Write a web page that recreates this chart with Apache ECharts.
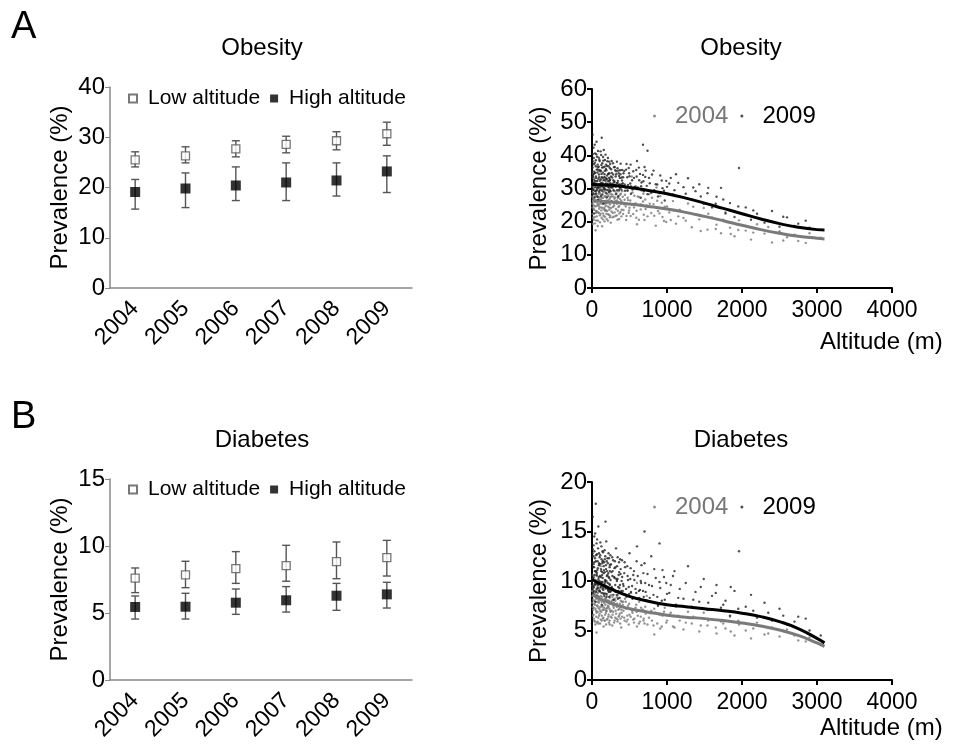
<!DOCTYPE html>
<html>
<head>
<meta charset="utf-8">
<script src="https://cdn.jsdelivr.net/npm/echarts@6/dist/echarts.min.js"></script>
<style>
	html, body { margin: 0; padding: 0; background: #fff; }
	#chart { width: 953px; height: 754px; }
</style>
</head>
<body>
<div id="chart"></div>
<script>
var years = ['2004', '2005', '2006', '2007', '2008', '2009'];

// Obesity, low / high altitude: mean, lower and upper error
var obLow = [25.5, 26.3, 27.7, 28.6, 29.3, 30.7];
var obLowLo = [24.1, 24.9, 26.1, 26.9, 27.5, 28.4];
var obLowHi = [27.1, 28.1, 29.3, 30.2, 31.1, 33.0];
var obHigh = [19.1, 19.8, 20.4, 21.0, 21.4, 23.2];
var obHighLo = [15.7, 16.0, 17.4, 17.4, 18.3, 19.0];
var obHighHi = [21.6, 22.9, 24.1, 24.9, 24.9, 26.3];

// Diabetes, low / high altitude
var diLow = [7.61, 7.84, 8.31, 8.53, 8.83, 9.13];
var diLowLo = [6.52, 6.89, 7.21, 7.37, 7.56, 7.76];
var diLowHi = [8.36, 8.86, 9.58, 10.05, 10.3, 10.42];
var diHigh = [5.45, 5.47, 5.77, 5.95, 6.29, 6.39];
var diHighLo = [4.55, 4.55, 4.90, 5.07, 5.20, 5.37];
var diHighHi = [6.27, 6.47, 6.79, 6.97, 7.21, 7.29];

// fitted curves against altitude (m)
var fitAlt = [0, 250, 500, 750, 1000, 1250, 1500, 1750, 2000, 2250, 2500, 2750, 3000, 3100];
var obFit2004 = [26.2, 25.9, 25.3, 24.6, 23.8, 22.8, 21.6, 20.3, 18.9, 17.6, 16.5, 15.6, 15.0, 14.8];
var obFit2009 = [31.2, 31.0, 30.3, 29.4, 28.4, 27.1, 25.6, 24.0, 22.4, 20.8, 19.4, 18.3, 17.6, 17.5];
var diFit2004 = [8.6, 7.75, 7.2, 6.85, 6.55, 6.35, 6.2, 6.0, 5.75, 5.45, 5.05, 4.5, 3.75, 3.4];
var diFit2009 = [10.15, 9.2, 8.45, 7.95, 7.6, 7.4, 7.2, 7.0, 6.75, 6.4, 5.9, 5.2, 4.2, 3.75];

// municipality points [altitude, prevalence]
var obPts2004 = [[5,24.3],[10,28.7],[15,21.2],[20,26.8],[25,30.4],[30,23.6],[35,27.1],[40,19.5],[45,25.9],[50,29.2],[55,22.7],[60,26.4],[65,32.1],[70,24.8],[75,27.5],[80,20.3],[85,25.1],[90,28.4],[95,23.9],[100,26.6],[110,30.2],[115,22.4],[120,25.7],[130,27.3],[135,18.6],[140,24.1],[150,28.9],[155,21.8],[160,26.2],[170,33.4],[175,23.3],[180,25.5],[190,29.6],[195,20.8],[200,26.0],[210,24.6],[220,27.8],[225,22.1],[230,31.3],[240,25.2],[250,19.7],[255,27.6],[260,23.1],[270,28.2],[280,24.4],[290,21.5],[300,26.9],[310,29.1],[320,23.8],[330,25.4],[340,20.6],[350,27.2],[360,24.7],[370,30.5],[380,22.9],[390,26.3],[400,25.8],[12,34.5],[48,17.4],[88,35.2],
	[420,23.5],[440,28.1],[460,21.7],[480,26.5],[500,24.2],[520,30.8],[550,22.3],[580,25.6],[600,19.2],[630,27.4],[650,23.7],[680,26.1],[700,20.5],[730,24.9],[760,28.3],[790,22.6],[820,25.3],[850,18.8],[880,23.2],[910,27.7],[940,21.4],[970,24.5],[990,19.9],[530,33.6],[860,30.3],
	[1030,22.8],[1080,26.2],[1120,19.4],[1170,23.6],[1220,21.1],[1280,25.5],[1330,18.3],[1380,22.2],[1430,20.7],[1490,24.1],[1540,17.6],[1600,21.3],[1660,19.1],[1720,16.5],[1780,22.4],[1840,18.2],[1900,15.6],[1960,20.4],
	[2050,17.3],[2120,14.6],[2200,19.2],[2300,16.4],[2400,13.7],[2500,17.1],[2600,15.3],[2750,14.2],[2900,16.5],[3050,15.2],
	[3,27.6],[8,22.3],[13,29.4],[18,25.1],[23,20.6],[28,28.2],[33,24.7],[38,31.5],[43,26.3],[53,23.2],[58,27.9],[63,21.6],[68,29.8],[73,25.4],[78,30.1],[83,22.8],[93,27.3],[98,24.5],[105,21.9],[108,28.5],[118,26.7],[125,23.4],[128,30.6],[138,25.3],[145,27.1],[148,22.5],[158,29.3],[165,24.2],[168,20.1],[178,27.7],[185,23.5],[188,31.8],[198,25.6],[205,28.3],[215,22.2],[218,26.5],[228,24.3],[235,29.7],[238,21.3],[245,27.4],[265,25.9],[275,22.6],[285,29.5],[295,24.8],[305,27.3],[315,21.7],[325,28.6],[335,26.4],[345,23.3],[355,29.2],[365,22.5],[375,26.8],[385,28.4],[395,23.6],
	[410,27.5],[430,25.2],[450,24.6],[470,29.3],[490,22.7],[510,26.4],[540,28.8],[560,24.3],[590,21.2],[610,27.6],[640,24.9],[660,29.4],[690,22.1],[710,26.7],[740,21.6],[770,25.4],[800,27.2],[830,21.8],[870,26.3],[900,22.5],[930,25.7],[960,20.2],[1000,24.6],
	[1050,20.5],[1100,23.4],[1150,21.6],[1250,20.3],[1350,24.5],[1450,17.2],[1550,22.4],[1650,17.8],[1750,20.6],[1850,16.3],[1950,17.5],[2150,16.7],[2350,18.4],[2550,14.3],[2700,16.1],[2850,13.6],
	[2,25.4],[7,30.7],[11,19.3],[16,27.2],[21,23.8],[26,33.1],[31,26.6],[36,21.4],[41,28.3],[46,24.6],[51,31.2],[56,20.4],[61,27.8],[66,23.1],[71,29.5],[76,18.7],[81,26.2],[86,30.3],[91,22.6],[96,28.8],[102,25.3],[107,19.8],[112,27.4],[117,31.6],[122,24.3],[127,21.2],[132,29.7],[137,26.1],[142,32.4],[147,20.7],[152,25.6],[157,30.4],[162,23.7],[167,27.6],[172,21.5],[177,29.1],[182,24.8],[187,26.3],[192,22.4],[197,30.9],[202,23.2],[207,27.5],[212,20.3],[217,29.4],[222,25.7],[227,32.2],[232,23.6],[237,26.9],[242,21.8],[247,28.4],[252,24.1],[262,30.2],[272,21.3],[282,27.6],[292,25.5],[302,22.8],[312,26.2],[322,30.6],[332,21.9],[342,27.3],[352,24.4],[362,20.8],[372,28.1],[382,25.3],[392,21.6],[402,29.2],[415,22.3],[435,26.6],[455,20.5],[475,27.2],[495,23.4],[515,21.7],[535,25.1],[565,27.8],[595,23.3],[625,20.6],[655,25.2],[685,28.4],[715,23.8]];
var obPts2009 = [[5,33.4],[10,38.2],[15,29.6],[20,42.3],[25,31.8],[30,35.1],[35,27.4],[40,40.6],[45,32.2],[50,36.7],[55,28.5],[60,44.1],[65,30.3],[70,34.8],[75,37.2],[80,26.6],[85,32.9],[90,39.3],[95,29.1],[100,35.6],[110,31.4],[115,41.2],[120,27.8],[130,33.5],[135,36.3],[140,30.7],[150,38.4],[155,25.5],[160,32.6],[170,35.3],[175,29.8],[180,40.2],[190,33.1],[195,27.3],[200,36.8],[210,31.2],[220,34.5],[225,28.9],[230,38.1],[240,32.7],[250,30.4],[255,35.8],[260,26.2],[270,33.3],[280,37.6],[290,29.4],[300,32.1],[310,35.5],[320,28.3],[330,31.6],[340,36.1],[350,27.7],[360,33.8],[370,30.2],[380,34.3],[390,29.7],[400,32.4],[8,46.2],[28,22.5],[130,45.3],
	[420,34.6],[440,29.3],[460,37.4],[480,31.1],[500,33.7],[520,28.4],[550,35.2],[580,30.6],[600,38.3],[630,32.5],[650,27.2],[680,34.1],[700,36.5],[730,30.8],[760,33.2],[790,28.7],[820,35.4],[850,31.3],[880,27.6],[910,33.9],[940,30.1],[970,26.4],[990,32.3],[680,43.2],[740,41.4],
	[1030,31.5],[1080,28.2],[1120,34.3],[1170,27.6],[1220,30.4],[1280,33.1],[1330,26.7],[1380,29.2],[1430,31.3],[1490,25.4],[1540,28.6],[1600,24.3],[1660,27.5],[1720,30.2],[1780,22.7],[1840,25.6],[1900,21.4],[1960,36.2],
	[2050,24.3],[2120,20.6],[2200,22.4],[2300,19.7],[2400,23.2],[2500,18.5],[2600,21.3],[2750,19.4],[2900,18.2],[3050,17.6],
	[3,30.6],[8,36.3],[13,33.7],[18,28.4],[23,39.2],[28,34.5],[33,31.3],[38,37.8],[43,29.2],[53,33.6],[58,40.3],[63,35.7],[68,31.1],[73,27.5],[78,36.4],[83,30.8],[93,34.2],[98,38.7],[105,32.3],[108,29.6],[118,35.4],[125,37.1],[128,31.7],[138,28.2],[145,34.8],[148,39.5],[158,30.2],[165,33.4],[168,36.6],[178,31.3],[185,35.9],[188,28.6],[198,32.8],[205,38.2],[215,30.5],[218,34.4],[228,33.2],[235,29.3],[238,36.2],[245,31.6],[265,34.7],[275,30.3],[285,32.5],[295,36.4],[305,30.9],[315,33.6],[325,35.2],[335,29.5],[345,32.3],[355,34.6],[365,31.2],[375,35.5],[385,30.4],[395,33.3],
	[410,31.6],[430,35.3],[450,30.2],[470,33.4],[490,36.2],[510,31.5],[540,29.7],[560,33.2],[590,35.6],[610,30.3],[640,34.4],[660,31.8],[690,29.2],[710,33.5],[740,28.3],[770,31.6],[800,34.2],[830,29.5],[870,31.2],[900,28.6],[930,32.4],[960,29.3],[1000,30.5],
	[1050,33.2],[1100,29.5],[1150,31.7],[1250,28.4],[1350,30.3],[1450,27.6],[1550,30.2],[1650,25.4],[1750,26.7],[1850,23.3],[1950,24.6],[2150,23.4],[2350,20.2],[2550,21.5],[2700,18.7],[2850,20.3],
	[2,35.3],[7,31.6],[11,40.4],[16,34.2],[21,29.7],[26,37.3],[31,32.6],[36,43.2],[41,34.7],[46,30.4],[51,38.5],[56,33.2],[61,29.5],[66,39.6],[71,32.3],[76,35.7],[81,41.3],[86,30.2],[91,36.6],[96,33.4],[102,38.3],[107,30.6],[112,35.2],[117,32.8],[122,40.1],[127,34.4],[132,29.3],[137,37.6],[142,33.2],[147,31.5],[152,36.4],[157,41.6],[162,29.8],[167,34.3],[172,38.6],[177,32.4],[182,30.7],[187,37.2],[192,35.5],[197,31.3],[202,33.9],[207,29.6],[212,39.2],[217,32.2],[222,36.7],[227,30.3],[232,34.6],[237,32.5],[242,37.4],[247,29.2],[252,33.6],[262,38.3],[272,31.4],[282,34.2],[292,31.8],[302,36.5],[312,30.6],[322,34.3],[332,38.1],[342,31.7],[352,35.4],[362,29.6],[372,33.2],[382,37.5],[392,31.3],[402,35.6],[415,33.4],[435,31.2],[455,35.7],[475,29.4],[495,34.6],[515,37.2],[535,32.5],[565,30.4],[595,33.6],[625,36.3],[655,30.7],[685,32.2],[715,35.4]];
var diPts2004 = [[5,8.5],[10,10.2],[15,7.1],[20,9.3],[25,6.2],[30,8.0],[35,11.0],[40,7.6],[45,5.6],[50,9.0],[55,8.2],[60,6.8],[65,10.5],[70,7.9],[75,5.9],[80,8.8],[85,7.3],[90,9.6],[95,6.5],[100,8.4],[110,7.0],[115,11.5],[120,8.1],[130,6.0],[135,9.2],[140,7.5],[150,8.7],[155,5.4],[160,7.8],[170,10.0],[175,6.6],[180,8.3],[190,7.2],[195,9.4],[200,6.1],[210,8.0],[220,7.4],[225,5.8],[230,9.0],[240,7.7],[250,6.4],[255,8.6],[260,7.0],[270,5.5],[280,8.1],[290,7.3],[300,9.1],[310,6.3],[320,7.6],[330,8.4],[340,5.9],[350,7.1],[360,8.8],[370,6.7],[380,7.4],[390,5.3],[400,7.9],[20,12.5],[60,4.8],[140,12.0],
	[420,7.0],[440,8.2],[460,5.9],[480,7.5],[500,6.6],[520,8.8],[550,6.1],[580,7.3],[600,5.4],[630,7.9],[650,6.4],[680,7.1],[700,5.7],[730,8.5],[760,6.3],[790,7.0],[820,5.5],[850,6.8],[880,7.6],[910,5.2],[940,6.5],[970,7.3],[990,5.8],[600,9.8],[830,4.6],
	[1030,6.6],[1080,5.4],[1120,7.4],[1170,6.0],[1220,5.1],[1280,6.9],[1330,5.7],[1380,6.3],[1430,4.9],[1490,6.8],[1540,5.5],[1600,6.1],[1660,4.7],[1720,5.9],[1780,5.2],[1840,6.4],[1900,4.5],[1960,5.6],
	[2050,5.0],[2120,4.2],[2200,5.8],[2300,4.6],[2400,5.3],[2500,4.4],[2600,5.1],[2750,4.0],[2900,4.3],[3050,3.6],
	[3,7.8],[8,9.5],[13,6.5],[18,8.9],[23,7.3],[28,10.4],[33,6.0],[38,8.6],[43,9.8],[53,7.0],[58,8.4],[63,5.8],[68,9.1],[73,7.5],[78,10.0],[83,6.3],[93,8.0],[98,7.2],[105,9.3],[108,5.7],[118,8.5],[125,6.9],[128,9.8],[138,7.4],[145,6.2],[148,8.8],[158,7.1],[165,9.5],[168,6.0],[178,8.2],[185,7.0],[188,5.6],[198,8.6],[205,7.3],[215,9.0],[218,6.4],[228,7.8],[235,6.0],[238,8.3],[245,7.0],[265,8.0],[275,6.6],[285,7.5],[295,5.8],[305,8.2],[315,7.0],[325,6.2],[335,7.7],[345,8.6],[355,6.4],[365,7.2],[375,5.7],[385,8.0],[395,6.8],
	[410,7.6],[430,6.3],[450,7.9],[470,6.5],[490,5.6],[510,7.2],[540,6.8],[560,5.8],[590,7.6],[610,6.5],[640,5.9],[660,7.0],[690,6.2],[710,7.4],[740,5.6],[770,6.8],[800,6.0],[830,7.2],[870,5.7],[900,6.6],[930,5.4],[960,6.9],[1000,6.0],
	[1050,6.8],[1100,5.3],[1150,6.5],[1250,5.8],[1350,6.4],[1450,5.5],[1550,6.0],[1650,5.3],[1750,5.7],[1850,4.9],[1950,6.0],[2150,5.2],[2350,4.7],[2550,5.0],[2700,4.5],[2850,3.9],
	[2,9.0],[7,7.4],[11,10.6],[16,8.1],[21,6.6],[26,9.7],[31,7.7],[36,5.9],[41,8.8],[46,7.2],[51,10.1],[56,6.4],[61,8.6],[66,7.5],[71,9.4],[76,6.9],[81,8.2],[86,5.7],[91,7.8],[96,9.1],[102,6.7],[107,8.9],[112,7.4],[117,6.1],[122,9.5],[127,7.9],[132,6.5],[137,8.4],[142,7.1],[147,9.9],[152,6.3],[157,8.0],[162,7.3],[167,8.8],[172,6.0],[177,7.6],[182,9.2],[187,6.8],[192,8.1],[197,7.0],[202,8.7],[207,6.2],[212,7.5],[217,9.3],[222,6.6],[227,8.0],[232,7.2],[237,5.6],[242,8.5],[247,6.9],[252,7.7],[262,6.3],[272,8.4],[282,6.9],[292,7.8],[302,6.0],[312,8.0],[322,6.7],[332,7.4],[342,6.1],[352,8.3],[362,6.5],[372,7.7],[382,6.2],[392,7.1],[402,6.4],[415,7.9],[435,6.0],[455,7.2],[475,6.1],[495,7.7],[515,6.4],[535,7.0],[565,6.2],[595,6.9],[625,5.7],[655,7.3],[685,6.0],[715,6.7]];
var diPts2009 = [[5,10.5],[10,13.2],[15,8.8],[20,11.7],[25,9.4],[30,14.5],[35,10.0],[40,12.3],[45,7.9],[50,11.0],[55,9.7],[60,13.8],[65,10.8],[70,8.5],[75,12.0],[80,9.3],[85,15.5],[90,10.4],[95,11.8],[100,8.2],[110,12.6],[115,9.9],[120,11.2],[130,7.6],[135,10.6],[140,13.0],[150,9.1],[155,11.5],[160,8.7],[170,12.2],[175,10.1],[180,9.5],[190,14.0],[195,8.4],[200,11.0],[210,9.8],[220,12.8],[225,8.9],[230,10.3],[240,11.6],[250,9.0],[255,7.8],[260,10.9],[270,12.4],[280,9.2],[290,8.1],[300,11.3],[310,9.6],[320,13.3],[330,8.6],[340,10.2],[350,9.4],[360,11.9],[370,8.3],[380,10.7],[390,9.0],[400,12.1],[10,16.5],[50,17.8],[180,16.0],
	[420,9.5],[440,11.4],[460,8.4],[480,10.1],[500,12.8],[520,8.9],[550,10.6],[580,9.2],[600,13.5],[630,8.3],[650,10.0],[680,9.0],[700,11.8],[730,8.0],[760,9.6],[790,12.5],[820,8.6],[850,10.3],[880,7.5],[910,9.3],[940,11.1],[970,8.1],[990,9.8],[700,15.0],[900,13.8],
	[1030,8.8],[1080,10.5],[1120,7.6],[1170,9.2],[1220,8.2],[1280,11.5],[1330,7.4],[1380,8.9],[1430,7.9],[1490,10.2],[1540,7.1],[1600,8.5],[1660,9.6],[1720,7.3],[1780,8.0],[1840,6.5],[1900,9.0],[1960,13.0],
	[2050,7.4],[2120,8.6],[2200,6.3],[2300,7.8],[2400,6.0],[2500,7.2],[2600,5.6],[2750,6.4],[2900,5.0],[3050,4.5],
	[3,11.8],[8,9.2],[13,12.5],[18,10.3],[23,8.6],[28,11.4],[33,13.0],[38,9.6],[43,11.0],[53,12.6],[58,8.9],[63,10.6],[68,14.2],[73,9.8],[78,11.3],[83,8.4],[93,12.8],[98,10.0],[105,9.0],[108,11.7],[118,10.4],[125,13.5],[128,8.8],[138,10.9],[145,12.0],[148,9.3],[158,11.1],[165,8.5],[168,13.1],[178,9.9],[185,11.6],[188,8.7],[198,10.5],[205,12.3],[215,9.1],[218,10.8],[228,8.4],[235,11.4],[238,9.6],[245,12.6],[265,9.4],[275,11.0],[285,8.6],[295,10.4],[305,12.0],[315,8.9],[325,10.2],[335,11.5],[345,8.2],[355,10.6],[365,9.3],[375,12.2],[385,8.8],[395,10.0],
	[410,9.0],[430,10.8],[450,8.6],[470,11.5],[490,9.4],[510,10.2],[540,8.2],[560,11.0],[590,8.8],[610,10.5],[640,9.1],[660,11.6],[690,8.4],[710,9.8],[740,10.7],[770,8.3],[800,9.5],[830,11.2],[870,8.4],[900,9.9],[930,8.0],[960,10.4],[1000,8.7],
	[1050,9.6],[1100,11.0],[1150,8.3],[1250,9.8],[1350,8.1],[1450,9.4],[1550,7.8],[1650,8.8],[1750,7.6],[1850,9.4],[1950,7.2],[2150,7.0],[2350,6.8],[2550,6.5],[2700,5.9],[2850,6.2],
	[2,10.0],[7,12.8],[11,9.5],[16,11.4],[21,13.6],[26,9.0],[31,11.9],[36,10.6],[41,14.8],[46,9.8],[51,12.0],[56,10.9],[61,9.2],[66,12.7],[71,11.1],[76,9.6],[81,13.3],[86,10.2],[91,11.6],[96,9.0],[102,12.4],[107,10.5],[112,13.9],[117,9.4],[122,11.0],[127,12.2],[132,9.9],[137,11.8],[142,10.3],[147,12.9],[152,9.5],[157,10.8],[162,11.9],[167,9.7],[172,10.9],[177,12.5],[182,9.3],[187,11.2],[192,10.0],[197,12.0],[202,9.4],[207,10.6],[212,11.8],[217,9.1],[222,10.4],[227,12.3],[232,9.7],[237,11.0],[242,8.9],[247,10.1],[252,11.7],[262,9.3],[272,10.5],[282,12.1],[292,9.1],[302,10.3],[312,11.4],[322,8.9],[332,10.0],[342,12.4],[352,9.0],[362,10.9],[372,9.6],[382,11.2],[392,8.8],[402,10.4],[415,9.7],[435,11.9],[455,9.2],[475,10.5],[495,8.7],[515,11.3],[535,9.5],[565,10.1],[595,12.0],[625,9.0],[655,9.8],[685,10.8],[715,8.9]];

var FONT = 'Liberation Sans, Arial, sans-serif';

function zip(a, b) {
	return a.map(function(v, i) { return [b[i], v]; });
}
function errData(lo, hi) {
	return lo.map(function(v, i) { return [i, v, hi[i]]; });
}
function errorItem(params, api) {
	var lo = api.coord([api.value(0), api.value(1)]);
	var hi = api.coord([api.value(0), api.value(2)]);
	var w = 4;
	var st = { stroke: '#555', lineWidth: 1.4 };
	return {
		type: 'group',
		children: [
			{ type: 'line', shape: { x1: lo[0], y1: lo[1], x2: hi[0], y2: hi[1] }, style: st },
			{ type: 'line', shape: { x1: lo[0] - w, y1: lo[1], x2: lo[0] + w, y2: lo[1] }, style: st },
			{ type: 'line', shape: { x1: hi[0] - w, y1: hi[1], x2: hi[0] + w, y2: hi[1] }, style: st }
		]
	};
}

function catAxis(idx) {
	return {
		type: 'category', gridIndex: idx, data: years, boundaryGap: true,
		axisLine: { lineStyle: { color: '#888', width: 1.5 } },
		axisTick: { alignWithLabel: true, length: 5, lineStyle: { color: '#888' } },
		axisLabel: { rotate: 45, color: '#000', fontSize: 23, fontFamily: FONT, margin: 17 },
		splitLine: { show: false }
	};
}
function altAxis(idx) {
	return {
		type: 'value', gridIndex: idx, min: 0, max: 4000, interval: 1000,
		axisLine: { lineStyle: { color: '#000', width: 2 } },
		axisTick: { length: 5, lineStyle: { color: '#000', width: 2 } },
		axisLabel: { color: '#000', fontSize: 23, fontFamily: FONT, margin: 11, formatter: function(v) { return String(v); } },
		splitLine: { show: false }
	};
}
function prevAxis(idx, max, interval, dark, gap) {
	var c = dark ? '#000' : '#888';
	return {
		type: 'value', gridIndex: idx, min: 0, max: max, interval: interval,
		name: 'Prevalence (%)', nameLocation: 'middle', nameGap: gap,
		nameTextStyle: { color: '#000', fontSize: 24, fontFamily: FONT },
		axisLine: { show: true, lineStyle: { color: c, width: dark ? 2 : 1.5 } },
		axisTick: { show: true, length: 5, lineStyle: { color: c, width: dark ? 2 : 1 } },
		axisLabel: { color: '#000', fontSize: 24, fontFamily: FONT, margin: 5 },
		splitLine: { show: false }
	};
}

function groupSeries(ax, low, lowLo, lowHi, high, highLo, highHi) {
	return [
		{ type: 'custom', xAxisIndex: ax, yAxisIndex: ax, renderItem: errorItem, data: errData(lowLo, lowHi), z: 2, silent: true },
		{ type: 'custom', xAxisIndex: ax, yAxisIndex: ax, renderItem: errorItem, data: errData(highLo, highHi), z: 2, silent: true },
		{ name: 'Low altitude', type: 'scatter', xAxisIndex: ax, yAxisIndex: ax, symbol: 'rect', symbolSize: 8,
			itemStyle: { color: '#fff', borderColor: '#555', borderWidth: 1.3 }, data: low, z: 5 },
		{ name: 'High altitude', type: 'scatter', xAxisIndex: ax, yAxisIndex: ax, symbol: 'rect', symbolSize: 10,
			itemStyle: { color: '#000' }, data: high, z: 5 }
	];
}
function altSeries(ax, pts04, pts09, fit04, fit09) {
	return [
		{ name: '2004', type: 'scatter', xAxisIndex: ax, yAxisIndex: ax, symbolSize: 2.4,
			itemStyle: { color: '#777' }, data: pts04, z: 2 },
		{ name: '2009', type: 'scatter', xAxisIndex: ax, yAxisIndex: ax, symbolSize: 2.4,
			itemStyle: { color: '#222' }, data: pts09, z: 2 },
		{ name: 'fit 2004', type: 'line', xAxisIndex: ax, yAxisIndex: ax, smooth: true, showSymbol: false,
			lineStyle: { color: '#7a7a7a', width: 3 }, data: zip(fit04, fitAlt), z: 4 },
		{ name: 'fit 2009', type: 'line', xAxisIndex: ax, yAxisIndex: ax, smooth: true, showSymbol: false,
			lineStyle: { color: '#000', width: 3 }, data: zip(fit09, fitAlt), z: 5 }
	];
}

var groupLegend = function(top) {
	return {
		left: 123, top: top, itemWidth: 8, itemHeight: 8, itemGap: 10,
		data: ['Low altitude', 'High altitude'],
		textStyle: { color: '#000', fontSize: 21, fontFamily: FONT, padding: [0, 0, 0, 6] }
	};
};
var yearLegend = function(top) {
	return {
		left: 648, top: top, icon: 'circle', itemWidth: 3, itemHeight: 3, itemGap: 12,
		data: [{ name: '2004', textStyle: { color: '#777' } }, { name: '2009', textStyle: { color: '#000' } }],
		textStyle: { fontSize: 24, fontFamily: FONT, padding: [0, 0, 0, 14] }
	};
};

var titleStyle = { fontSize: 24, fontWeight: 'normal', color: '#000', fontFamily: FONT };
var chart = echarts.init(document.getElementById('chart'));
var option = {
	backgroundColor: '#fff',
	animation: false,
	textStyle: { fontFamily: FONT },
	title: [
		{ text: 'Obesity', left: 257, top: 31, textAlign: 'center', textStyle: titleStyle },
		{ text: 'Obesity', left: 736, top: 31, textAlign: 'center', textStyle: titleStyle },
		{ text: 'Diabetes', left: 257, top: 423, textAlign: 'center', textStyle: titleStyle },
		{ text: 'Diabetes', left: 736, top: 423, textAlign: 'center', textStyle: titleStyle },
		{ text: 'A', left: 6, top: 4, textStyle: { fontSize: 38, fontWeight: 'normal', color: '#000', fontFamily: FONT } },
		{ text: 'B', left: 6, top: 394, textStyle: { fontSize: 38, fontWeight: 'normal', color: '#000', fontFamily: FONT } }
	],
	legend: [groupLegend(83), groupLegend(474), yearLegend(99), yearLegend(490)],
	grid: [
		{ left: 110, top: 87, width: 302, height: 201, outerBoundsMode: 'none' },
		{ left: 110, top: 479, width: 302, height: 201, outerBoundsMode: 'none' },
		{ left: 592, top: 89, width: 300, height: 199, outerBoundsMode: 'none' },
		{ left: 592, top: 482, width: 300, height: 198, outerBoundsMode: 'none' }
	],
	xAxis: [catAxis(0), catAxis(1), altAxis(2), altAxis(3)],
	yAxis: [prevAxis(0, 40, 10, false, 38), prevAxis(1, 15, 5, false, 38), prevAxis(2, 60, 10, true, 41), prevAxis(3, 20, 5, true, 41)],
	graphic: [
		{ type: 'text', left: 820, top: 330, style: { text: 'Altitude (m)', fontSize: 24, fontFamily: FONT, fill: '#000' } },
		{ type: 'text', left: 820, top: 716, style: { text: 'Altitude (m)', fontSize: 24, fontFamily: FONT, fill: '#000' } }
	],
	series: [].concat(
		groupSeries(0, obLow, obLowLo, obLowHi, obHigh, obHighLo, obHighHi),
		groupSeries(1, diLow, diLowLo, diLowHi, diHigh, diHighLo, diHighHi),
		altSeries(2, obPts2004, obPts2009, obFit2004, obFit2009),
		altSeries(3, diPts2004, diPts2009, diFit2004, diFit2009)
	)
};
chart.setOption(option);
</script>
</body>
</html>
